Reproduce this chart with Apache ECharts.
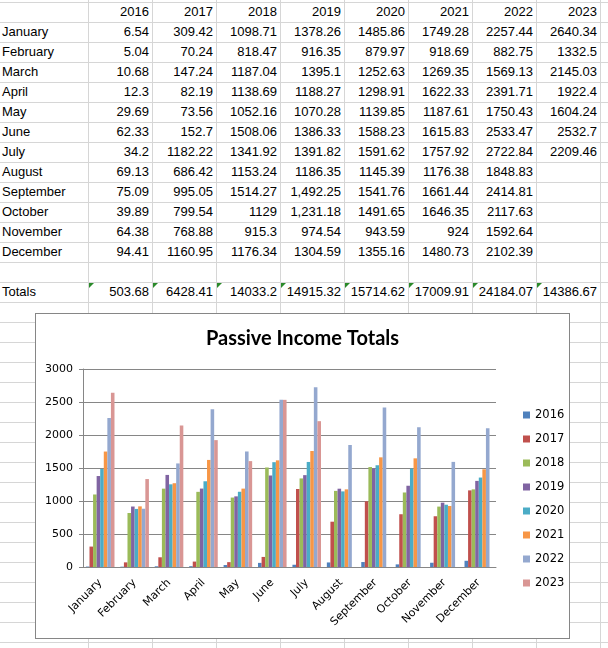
<!DOCTYPE html>
<html>
<head>
<meta charset="utf-8" />
<title>Passive Income Totals</title>
<script src="https://cdn.jsdelivr.net/npm/echarts@6.0.0/dist/echarts.min.js"></script>
<style>
	body { margin: 0; width: 608px; height: 648px; overflow: hidden; background: #fff; position: relative;
		font-family: "Liberation Sans", Arial, sans-serif; font-size: 13px; color: #000; }
	#rows { position: absolute; left: 0; top: 2px; width: 608px; height: 646px;
		background-image: linear-gradient(to bottom, #d6d6d6 1px, transparent 1px); background-size: 100% 20px; }
	#cols { position: absolute; left: 88px; top: 0; width: 520px; height: 648px;
		background-image: linear-gradient(to right, #d6d6d6 1px, transparent 1px); background-size: 64px 100%; }
	.cell { position: absolute; height: 20px; line-height: 20px; white-space: nowrap; box-sizing: border-box; }
	.lab { left: 2px; width: 86px; text-align: left; }
	.num { width: 64px; text-align: right; padding-right: 3px; }
	.tri { position: absolute; width: 0; height: 0; border-top: 5px solid #2a8a2a; border-right: 5px solid transparent; }
	#box { position: absolute; left: 35px; top: 313px; width: 535px; height: 326px; box-sizing: border-box;
		border: 1px solid #868686; background: #fff; }
	#chart { width: 533px; height: 324px; }
</style>
</head>
<body>
	<div id="rows"></div>
	<div id="cols"></div>
	<div id="sheet"></div>
	<div id="box"><div id="chart"></div></div>

<script type="text/javascript">
	// data read from the sheet
	var months = ['January', 'February', 'March', 'April', 'May', 'June', 'July', 'August',
		'September', 'October', 'November', 'December'];
	var years = ['2016', '2017', '2018', '2019', '2020', '2021', '2022', '2023'];

	var y2016 = [6.54, 5.04, 10.68, 12.3, 29.69, 62.33, 34.2, 69.13, 75.09, 39.89, 64.38, 94.41];
	var y2017 = [309.42, 70.24, 147.24, 82.19, 73.56, 152.7, 1182.22, 686.42, 995.05, 799.54, 768.88, 1160.95];
	var y2018 = [1098.71, 818.47, 1187.04, 1138.69, 1052.16, 1508.06, 1341.92, 1153.24, 1514.27, 1129, 915.3, 1176.34];
	var y2019 = [1378.26, 916.35, 1395.1, 1188.27, 1070.28, 1386.33, 1391.82, 1186.35, 1492.25, 1231.18, 974.54, 1304.59];
	var y2020 = [1485.86, 879.97, 1252.63, 1298.91, 1139.85, 1588.23, 1591.62, 1145.39, 1541.76, 1491.65, 943.59, 1355.16];
	var y2021 = [1749.28, 918.69, 1269.35, 1622.33, 1187.61, 1615.83, 1757.92, 1176.38, 1661.44, 1646.35, 924, 1480.73];
	var y2022 = [2257.44, 882.75, 1569.13, 2391.71, 1750.43, 2533.47, 2722.84, 1848.83, 2414.81, 2117.63, 1592.64, 2102.39];
	var y2023 = [2640.34, 1332.5, 2145.03, 1922.4, 1604.24, 2532.7, 2209.46];
	var totals = ['503.68', '6428.41', '14033.2', '14915.32', '15714.62', '17009.91', '24184.07', '14386.67'];
	// cells the sheet shows with a thousands separator: [year index, month index]
	var commaCells = [[3, 8], [3, 9]];

	var yAxisTicks = [0, 500, 1000, 1500, 2000, 2500, 3000];
	var colors = ['#4f81bd', '#c0504d', '#9bbb59', '#8064a2', '#4bacc6', '#f79646', '#94a8cf', '#d99694'];

	var byYear = [y2016, y2017, y2018, y2019, y2020, y2021, y2022, y2023];

	// spreadsheet cells
	var html = '';
	function cell(cls, left, row, text) {
		var st = 'top:' + (2 + row * 20) + 'px;' + (left !== null ? 'left:' + left + 'px;' : '');
		return '<div class="cell ' + cls + '" style="' + st + '">' + text + '</div>';
	}
	for (var c = 0; c < years.length; c++) {
		html += cell('num', 88 + c * 64, 0, years[c]);
	}
	for (var r = 0; r < months.length; r++) {
		html += cell('lab', null, r + 1, months[r]);
		for (var c = 0; c < years.length; c++) {
			var v = byYear[c][r];
			if (v === undefined) continue;
			var txt = String(v);
			for (var k = 0; k < commaCells.length; k++) {
				if (commaCells[k][0] == c && commaCells[k][1] == r) {
					txt = v.toLocaleString('en-US', { minimumFractionDigits: 2 });
				}
			}
			html += cell('num', 88 + c * 64, r + 1, txt);
		}
	}
	html += cell('lab', null, 14, 'Totals');
	for (var c = 0; c < years.length; c++) {
		html += cell('num', 88 + c * 64, 14, totals[c]);
		html += '<div class="tri" style="left:' + (89 + c * 64) + 'px;top:283px"></div>';
	}
	document.getElementById('sheet').innerHTML = html;

	// chart
	var series = [];
	for (var i = 0; i < years.length; i++) {
		series.push({
			name: years[i],
			type: 'bar',
			data: byYear[i],
			barGap: '0%',
			barCategoryGap: '17%',
			itemStyle: { color: colors[i] }
		});
	}

	var myChart = echarts.init(document.getElementById('chart'));
	var axisFont = { fontFamily: 'DejaVu Sans', fontSize: 11, color: '#000' };

	var option = {
		animation: false,
		title: {
			text: 'Passive Income Totals',
			left: 'center',
			top: 10,
			textStyle: { fontFamily: 'Lato', fontWeight: 'bold', fontSize: 20, color: '#000' }
		},
		legend: {
			orient: 'vertical',
			left: 482,
			top: 90,
			itemWidth: 7,
			itemHeight: 7,
			itemGap: 12,
			icon: 'rect',
			textStyle: { fontFamily: 'DejaVu Sans', fontSize: 11.5, color: '#000' },
			data: years
		},
		grid: { left: 47, top: 55, right: 73, bottom: 71 },
		xAxis: {
			type: 'category',
			data: months,
			axisLine: { lineStyle: { color: '#868686' } },
			axisTick: { length: 4, lineStyle: { color: '#868686' } },
			axisLabel: Object.assign({ rotate: 45, interval: 0, margin: 14 }, axisFont)
		},
		yAxis: {
			type: 'value',
			min: yAxisTicks[0],
			max: yAxisTicks[yAxisTicks.length - 1],
			interval: yAxisTicks[1] - yAxisTicks[0],
			axisLine: { show: true, lineStyle: { color: '#868686' } },
			axisTick: { show: true, length: 4, lineStyle: { color: '#868686' } },
			axisLabel: Object.assign({ margin: 10, formatter: function (v) { return String(v); } }, axisFont),
			splitLine: { lineStyle: { color: '#868686' } }
		},
		series: series
	};
	myChart.setOption(option);
</script>
</body>
</html>
